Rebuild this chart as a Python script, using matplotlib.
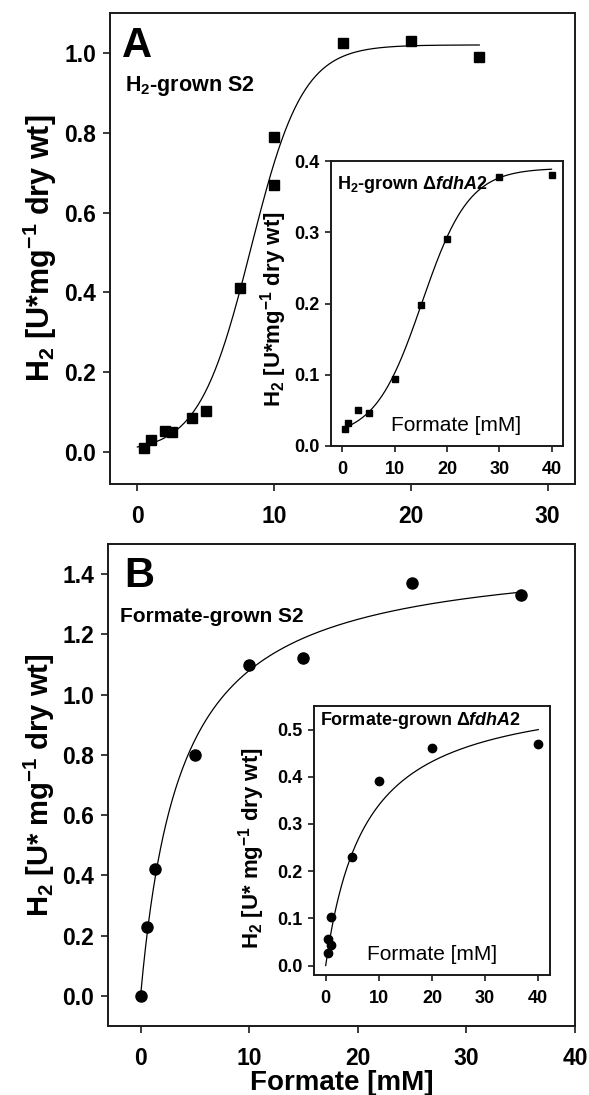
import numpy as np
import matplotlib
matplotlib.use("Agg")
import matplotlib.pyplot as plt

plt.rcParams['font.family'] = ['Liberation Sans', 'DejaVu Sans']
plt.rcParams['font.weight'] = 'bold'
plt.rcParams['mathtext.fontset'] = 'custom'
plt.rcParams['mathtext.rm'] = 'Liberation Sans:bold'
plt.rcParams['mathtext.it'] = 'Liberation Sans:bold:italic'
plt.rcParams['mathtext.bf'] = 'Liberation Sans:bold'
plt.rcParams['mathtext.default'] = 'rm'

# ---------------- data ----------------
# Panel A: H2-grown S2 (main)
a_main_x = [0.5, 1.0, 2.0, 2.5, 4.0, 5.0, 7.5, 10.0, 10.0, 15.0, 20.0, 25.0]
a_main_y = [0.009, 0.031, 0.054, 0.050, 0.086, 0.104, 0.41, 0.79, 0.67, 1.024, 1.031, 0.991]
# Panel A inset: H2-grown delta fdhA2
a_in_x = [0.5, 1.0, 3.0, 5.0, 10.0, 15.0, 20.0, 30.0, 40.0]
a_in_y = [0.024, 0.032, 0.050, 0.047, 0.094, 0.198, 0.291, 0.378, 0.380]
# Panel B: Formate-grown S2 (main)
b_main_x = [0.0, 0.6, 1.3, 5.0, 10.0, 15.0, 25.0, 35.0]
b_main_y = [0.0, 0.23, 0.42, 0.80, 1.10, 1.12, 1.37, 1.33]
# Panel B inset: Formate-grown delta fdhA2
b_in_x = [0.5, 0.5, 1.0, 1.0, 5.0, 10.0, 20.0, 40.0]
b_in_y = [0.027, 0.057, 0.044, 0.102, 0.231, 0.391, 0.46, 0.47]

# fitted regression parameters
a_main_fit = dict(y0=0.0, a=1.02, x0=8.3, b=1.9, xmin=0.0, xmax=25.0)      # sigmoid
a_in_fit = dict(y0=0.012, a=0.378, x0=15.2, b=4.5, xmin=0.5, xmax=40.0)    # sigmoid
b_main_fit = dict(vmax=1.483, km=3.73, xmin=0.0, xmax=35.0)                # hyperbola
b_in_fit = dict(vmax=0.593, km=7.44, xmin=0.0, xmax=40.0)                  # hyperbola

a_main_xticks = [0, 10, 20, 30]
a_main_yticks = [0.0, 0.2, 0.4, 0.6, 0.8, 1.0]
a_in_xticks = [0, 10, 20, 30, 40]
a_in_yticks = [0.0, 0.1, 0.2, 0.3, 0.4]
b_main_xticks = [0, 10, 20, 30, 40]
b_main_yticks = [0.0, 0.2, 0.4, 0.6, 0.8, 1.0, 1.2, 1.4]
b_in_xticks = [0, 10, 20, 30, 40]
b_in_yticks = [0.0, 0.1, 0.2, 0.3, 0.4, 0.5]


def sigmoid(p, n=300):
    x = np.linspace(p['xmin'], p['xmax'], n)
    return x, p['y0'] + p['a'] / (1 + np.exp(-(x - p['x0']) / p['b']))


def hyper(p, n=300):
    x = np.linspace(p['xmin'], p['xmax'], n)
    return x, p['vmax'] * x / (p['km'] + x)


W, H = 589, 1095
fig = plt.figure(figsize=(W / 100, H / 100), dpi=100)


def add_axes(x0, y0, x1, y1):
    return fig.add_axes([x0 / W, 1 - y1 / H, (x1 - x0) / W, (y1 - y0) / H])


def style(ax, xticks, yticks, lsize, tlen, xpad, ypad):
    for s in ax.spines.values():
        s.set_linewidth(1.4)
        s.set_color('#1a1a1a')
    ax.set_xticks(xticks)
    ax.set_yticks(yticks)
    ax.set_yticklabels([f'{v:.1f}' for v in yticks])
    ax.set_xticklabels([f'{v:g}' for v in xticks])
    ax.tick_params(direction='out', length=tlen, width=1.2, labelsize=lsize,
                   top=False, right=False, color='#1a1a1a')
    ax.tick_params(axis='x', pad=xpad)
    ax.tick_params(axis='y', pad=ypad)
    for lab in ax.get_xticklabels() + ax.get_yticklabels():
        lab.set_fontweight('bold')


ylab_a = r'H$_2$ [U*mg$^{-1}$ dry wt]'
ylab_b = r'H$_2$ [U* mg$^{-1}$ dry wt]'

# ---------------- Panel A ----------------
ax = add_axes(110, 13, 575, 484)
ax.plot(*sigmoid(a_main_fit), color='black', lw=0.9)
ax.plot(a_main_x, a_main_y, 's', color='black', ms=7)
ax.set_xlim(-2, 32)
ax.set_ylim(-0.08, 1.10)
style(ax, a_main_xticks, a_main_yticks, 16.5, 5, 10, 5)
ax.set_ylabel(ylab_a, fontsize=22, fontweight='bold')
ax.yaxis.set_label_coords(-0.11, 0.5)
ax.text(0.025, 0.972, 'A', transform=ax.transAxes, fontsize=30, fontweight='bold',
        va='top', ha='left')
ax.text(0.033, 0.835, r'H$_2$-grown S2', transform=ax.transAxes, fontsize=15.5,
        fontweight='bold', va='baseline', ha='left')

axi = add_axes(331, 161, 563, 446)
axi.plot(*sigmoid(a_in_fit), color='black', lw=0.9)
axi.plot(a_in_x, a_in_y, 's', color='black', ms=5)
axi.set_xlim(-2.2, 42.2)
axi.set_ylim(0.0, 0.4)
style(axi, a_in_xticks, a_in_yticks, 13, 4, 7, 4)
axi.set_ylabel(ylab_a, fontsize=16, fontweight='bold')
axi.yaxis.set_label_coords(-0.18, 0.48)
axi.text(0.025, 0.955, r'H$_2$-grown $\Delta\mathit{fdhA2}$', transform=axi.transAxes,
         fontsize=13, fontweight='bold', va='top', ha='left')
axi.text(0.537, 0.04, 'Formate [mM]', transform=axi.transAxes, fontsize=15,
         fontweight='normal', va='bottom', ha='center')

# ---------------- Panel B ----------------
bx = add_axes(108, 544, 575, 1026)
bx.plot(*hyper(b_main_fit), color='black', lw=0.9)
bx.plot(b_main_x, b_main_y, 'o', color='black', ms=8)
bx.set_xlim(-3, 40)
bx.set_ylim(-0.1, 1.5)
style(bx, b_main_xticks, b_main_yticks, 16.5, 5, 10, 5)
bx.set_ylabel(ylab_b, fontsize=21, fontweight='bold')
bx.yaxis.set_label_coords(-0.11, 0.5)
bx.set_xlabel('Formate [mM]', fontsize=20, fontweight='bold', labelpad=0)
bx.text(0.035, 0.975, 'B', transform=bx.transAxes, fontsize=30, fontweight='bold',
        va='top', ha='left')
bx.text(0.025, 0.838, 'Formate-grown S2', transform=bx.transAxes, fontsize=15,
        fontweight='bold', va='baseline', ha='left')

bxi = add_axes(314, 706, 550, 975)
bxi.plot(*hyper(b_in_fit), color='black', lw=0.9)
bxi.plot(b_in_x, b_in_y, 'o', color='black', ms=6)
bxi.set_xlim(-2.2, 42.2)
bxi.set_ylim(-0.02, 0.55)
style(bxi, b_in_xticks, b_in_yticks, 13, 4, 7, 4)
bxi.set_ylabel(ylab_b, fontsize=16, fontweight='bold')
bxi.yaxis.set_label_coords(-0.2, 0.47)
bxi.text(0.025, 0.985, r'Formate-grown $\Delta\mathit{fdhA2}$', transform=bxi.transAxes,
         fontsize=13, fontweight='bold', va='top', ha='left')
bxi.text(0.502, 0.04, 'Formate [mM]', transform=bxi.transAxes, fontsize=15,
         fontweight='normal', va='bottom', ha='center')

fig.savefig('out.png', dpi=100)
